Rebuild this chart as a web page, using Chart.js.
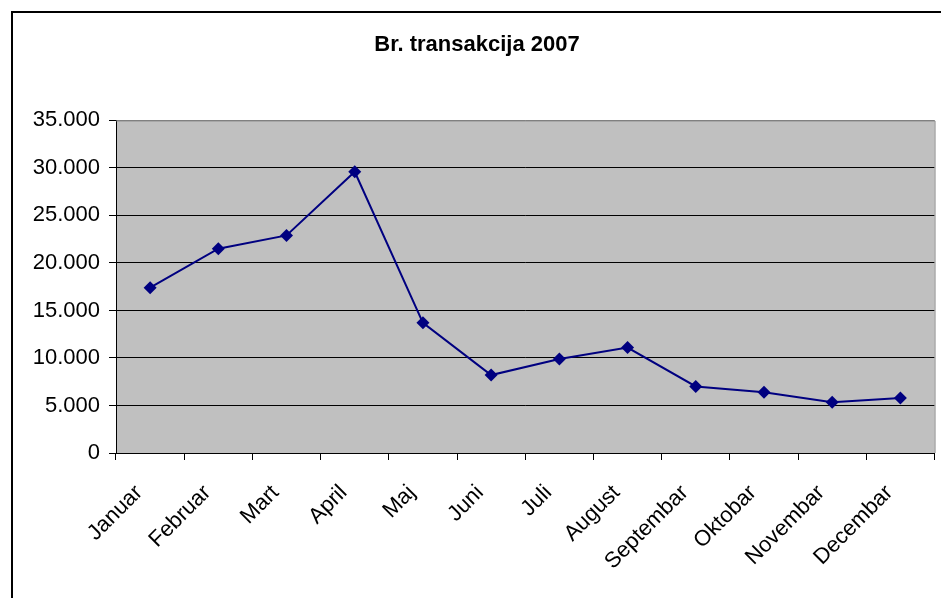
<!DOCTYPE html>
<html>
<head>
<meta charset="utf-8">
<script src="https://cdn.jsdelivr.net/npm/chart.js@4/dist/chart.umd.min.js"></script>
<style>
  html, body { margin: 0; padding: 0; background: #fff; }
  #wrap { position: relative; width: 941px; height: 598px; }
</style>
</head>
<body>
<div id="wrap"><canvas id="chartLine" width="941" height="598"></canvas></div>
<script>
const months = ['Januar', 'Februar', 'Mart', 'April', 'Maj', 'Juni', 'Juli', 'August', 'Septembar', 'Oktobar', 'Novembar', 'Decembar'];
const transakcije = [17400, 21500, 22900, 29600, 13700, 8200, 9900, 11100, 7000, 6400, 5350, 5800];
const yTicks = [0, 5000, 10000, 15000, 20000, 25000, 30000, 35000];

function formatBroj(v) {
  return String(v).replace(/\B(?=(\d{3})+(?!\d))/g, '.');
}

// gray plot area, gray right/top border, black frame round the chart
const excelLook = {
  id: 'excelLook',
  beforeDraw(chart) {
    const { ctx, chartArea: a } = chart;
    ctx.save();
    ctx.fillStyle = '#c0c0c0';
    ctx.fillRect(a.left, a.top, a.right - a.left, a.bottom - a.top);
    ctx.restore();
  },
  afterDraw(chart) {
    const { ctx, chartArea: a } = chart;
    ctx.save();
    ctx.strokeStyle = '#808080';
    ctx.lineWidth = 1;
    ctx.beginPath();
    ctx.moveTo(a.left, a.top + 0.5);
    ctx.lineTo(a.right + 0.5, a.top + 0.5);
    ctx.lineTo(a.right + 0.5, a.bottom);
    ctx.stroke();
    ctx.strokeStyle = '#000';
    ctx.lineWidth = 2;
    ctx.beginPath();
    ctx.moveTo(12, 598);
    ctx.lineTo(12, 12);
    ctx.lineTo(941, 12);
    ctx.stroke();
    ctx.restore();
  },
};

const dataLine = {
  labels: months,
  datasets: [
    {
      label: 'Br. transakcija 2007',
      data: transakcije,
      borderColor: '#000080',
      backgroundColor: '#000080',
      borderWidth: 2,
      pointStyle: 'rectRot',
      pointRadius: 6.5,
      pointBorderWidth: 0,
      tension: 0,
    },
  ],
};

const configLine = {
  type: 'line',
  data: dataLine,
  plugins: [excelLook],
  options: {
    responsive: false,
    animation: false,
    layout: { padding: { left: 18, right: 5, top: 0, bottom: 0 } },
    plugins: {
      legend: { display: false },
      tooltip: { enabled: false },
      title: {
        display: true,
        text: 'Br. transakcija 2007',
        color: '#000',
        font: { family: 'Liberation Sans, Arial', size: 22, weight: 'bold', lineHeight: 1.2 },
        padding: { top: 32, bottom: 62 },
      },
    },
    scales: {
      x: {
        offset: true,
        grid: {
          drawOnChartArea: false,
          drawTicks: true,
          tickLength: 7,
          color: '#000',
          offset: true,
        },
        border: { color: '#000', width: 1 },
        ticks: {
          color: '#000',
          font: { family: 'Liberation Sans, Arial', size: 22 },
          minRotation: 45,
          maxRotation: 45,
          padding: 20,
          labelOffset: -11,
          autoSkip: false,
        },
        afterFit(scale) { scale.height = 145; },
      },
      y: {
        min: 0,
        max: 35000,
        afterBuildTicks(scale) { scale.ticks = yTicks.map(v => ({ value: v })); },
        grid: {
          color: ctx => (ctx.tick && ctx.tick.value === 35000 ? '#808080' : '#000'),
          tickColor: '#000',
          tickLength: 7,
          lineWidth: 1,
        },
        border: { color: '#000', width: 1 },
        ticks: {
          color: '#000',
          font: { family: 'Liberation Sans, Arial', size: 22 },
          padding: 9,
          callback: v => formatBroj(v),
        },
        afterFit(scale) { scale.width = 98; },
      },
    },
  },
};

var chartLine = new Chart(document.getElementById('chartLine'), configLine);
</script>
</body>
</html>
